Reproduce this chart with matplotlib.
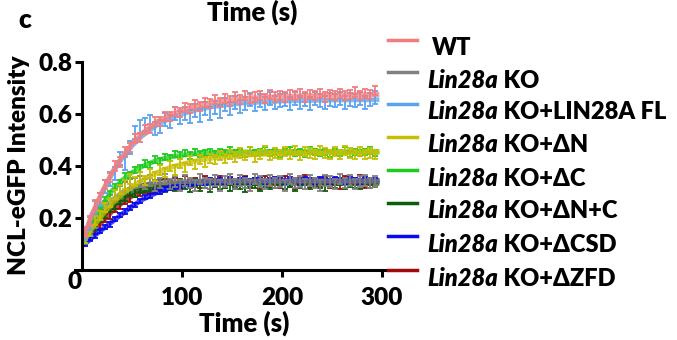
import matplotlib
matplotlib.use('Agg')
import matplotlib.pyplot as plt
from matplotlib.lines import Line2D
import numpy as np

plt.rcParams['font.family'] = ['Lato', 'DejaVu Sans']
plt.rcParams['font.weight'] = 'heavy'

# sampling times (s)
time = np.arange(3, 294, 5)

wt = [0.145, 0.19, 0.25, 0.28, 0.33, 0.355, 0.40, 0.415, 0.455, 0.47,
      0.505, 0.51, 0.54, 0.545, 0.57, 0.57, 0.59, 0.59, 0.61, 0.605,
      0.625, 0.62, 0.635, 0.63, 0.645, 0.64, 0.655, 0.645, 0.66, 0.65,
      0.665, 0.655, 0.67, 0.66, 0.665, 0.67, 0.66, 0.675, 0.665, 0.67,
      0.665, 0.675, 0.67, 0.68, 0.665, 0.675, 0.67, 0.68, 0.665, 0.675,
      0.67, 0.68, 0.67, 0.675, 0.685, 0.67, 0.68, 0.675, 0.69]
ko = [0.12, 0.16, 0.18, 0.22, 0.245, 0.27, 0.29, 0.31, 0.32, 0.33,
      0.335, 0.34, 0.33, 0.345, 0.325, 0.335, 0.35, 0.33, 0.34, 0.325,
      0.345, 0.335, 0.325, 0.35, 0.335, 0.33, 0.345, 0.325, 0.34, 0.35,
      0.33, 0.345, 0.335, 0.325, 0.35, 0.34, 0.33, 0.345, 0.335, 0.34,
      0.325, 0.35, 0.335, 0.34, 0.33, 0.345, 0.335, 0.325, 0.345, 0.34,
      0.33, 0.35, 0.335, 0.345, 0.33, 0.34, 0.345, 0.335, 0.34]
fl = [0.14, 0.18, 0.24, 0.27, 0.32, 0.35, 0.37, 0.43, 0.41, 0.47,
      0.53, 0.55, 0.56, 0.57, 0.545, 0.55, 0.58, 0.57, 0.60, 0.585,
      0.60, 0.59, 0.615, 0.595, 0.62, 0.60, 0.625, 0.61, 0.635, 0.62,
      0.645, 0.63, 0.64, 0.655, 0.635, 0.65, 0.64, 0.66, 0.645, 0.65,
      0.655, 0.64, 0.66, 0.645, 0.655, 0.64, 0.66, 0.65, 0.645, 0.655,
      0.65, 0.66, 0.645, 0.655, 0.65, 0.66, 0.645, 0.655, 0.665]
d_n = [0.12, 0.15, 0.19, 0.21, 0.24, 0.26, 0.29, 0.31, 0.33, 0.35,
       0.34, 0.36, 0.345, 0.37, 0.36, 0.385, 0.375, 0.40, 0.385, 0.41,
       0.395, 0.42, 0.405, 0.425, 0.415, 0.43, 0.425, 0.44, 0.43, 0.445,
       0.435, 0.45, 0.44, 0.455, 0.435, 0.445, 0.46, 0.44, 0.45, 0.445,
       0.455, 0.445, 0.46, 0.44, 0.455, 0.45, 0.445, 0.46, 0.45, 0.445,
       0.455, 0.445, 0.46, 0.45, 0.445, 0.455, 0.445, 0.45, 0.445]
d_c = [0.115, 0.16, 0.205, 0.23, 0.27, 0.29, 0.32, 0.335, 0.36, 0.365,
       0.385, 0.39, 0.41, 0.405, 0.425, 0.42, 0.435, 0.43, 0.445, 0.44,
       0.45, 0.44, 0.455, 0.445, 0.45, 0.455, 0.445, 0.455, 0.45, 0.46,
       0.45, 0.455, 0.445, 0.46, 0.45, 0.455, 0.46, 0.45, 0.455, 0.445,
       0.455, 0.46, 0.45, 0.455, 0.445, 0.46, 0.455, 0.45, 0.455, 0.445,
       0.455, 0.45, 0.46, 0.445, 0.455, 0.45, 0.455, 0.46, 0.45]
d_nc = [0.115, 0.145, 0.17, 0.2, 0.215, 0.24, 0.25, 0.27, 0.28, 0.30,
        0.295, 0.31, 0.315, 0.32, 0.31, 0.33, 0.315, 0.33, 0.32, 0.335,
        0.325, 0.315, 0.335, 0.32, 0.33, 0.315, 0.335, 0.325, 0.33, 0.32,
        0.335, 0.325, 0.315, 0.335, 0.33, 0.32, 0.335, 0.325, 0.33, 0.34,
        0.325, 0.335, 0.32, 0.33, 0.34, 0.325, 0.335, 0.33, 0.32, 0.335,
        0.33, 0.34, 0.325, 0.335, 0.33, 0.325, 0.34, 0.33, 0.335]
d_csd = [0.10, 0.12, 0.13, 0.15, 0.165, 0.175, 0.195, 0.21, 0.225, 0.24,
         0.25, 0.265, 0.28, 0.285, 0.30, 0.30, 0.31, 0.315, 0.32, 0.325,
         0.33, 0.33, 0.335, 0.34, 0.335, 0.345, 0.34, 0.345, 0.34, 0.35,
         0.34, 0.345, 0.35, 0.34, 0.345, 0.35, 0.34, 0.345, 0.35, 0.345,
         0.34, 0.35, 0.345, 0.34, 0.35, 0.345, 0.34, 0.35, 0.345, 0.34,
         0.35, 0.345, 0.34, 0.35, 0.345, 0.34, 0.35, 0.345, 0.345]
d_zfd = [0.11, 0.13, 0.155, 0.17, 0.20, 0.21, 0.24, 0.25, 0.27, 0.275,
         0.295, 0.30, 0.31, 0.31, 0.33, 0.32, 0.335, 0.325, 0.34, 0.325,
         0.345, 0.33, 0.34, 0.33, 0.345, 0.325, 0.335, 0.345, 0.33, 0.34,
         0.325, 0.34, 0.345, 0.33, 0.34, 0.325, 0.345, 0.335, 0.34, 0.33,
         0.345, 0.335, 0.325, 0.34, 0.35, 0.33, 0.34, 0.335, 0.345, 0.33,
         0.34, 0.325, 0.345, 0.335, 0.34, 0.35, 0.33, 0.34, 0.335]

# fitted recovery curves, read at a few times
fit_t = [3, 10, 20, 30, 40, 50, 60, 75, 90, 110, 130, 160, 200, 250, 295]
fit_wt = [0.14, 0.215, 0.30, 0.375, 0.435, 0.485, 0.525, 0.57, 0.60, 0.628, 0.645, 0.66, 0.668, 0.673, 0.675]
fit_ko = [0.12, 0.165, 0.225, 0.268, 0.298, 0.316, 0.327, 0.335, 0.339, 0.341, 0.342, 0.342, 0.342, 0.342, 0.342]
fit_fl = [0.135, 0.21, 0.295, 0.37, 0.43, 0.478, 0.515, 0.558, 0.587, 0.612, 0.628, 0.642, 0.65, 0.654, 0.655]
fit_n = [0.12, 0.16, 0.21, 0.255, 0.29, 0.32, 0.345, 0.375, 0.397, 0.417, 0.43, 0.441, 0.448, 0.451, 0.452]
fit_c = [0.115, 0.175, 0.25, 0.305, 0.345, 0.375, 0.398, 0.422, 0.436, 0.446, 0.451, 0.454, 0.455, 0.455, 0.455]
fit_nc = [0.115, 0.155, 0.205, 0.245, 0.275, 0.296, 0.31, 0.322, 0.328, 0.331, 0.332, 0.333, 0.333, 0.333, 0.333]
fit_csd = [0.10, 0.125, 0.155, 0.185, 0.215, 0.245, 0.27, 0.298, 0.317, 0.332, 0.339, 0.343, 0.345, 0.345, 0.345]
fit_zfd = [0.11, 0.14, 0.185, 0.225, 0.258, 0.284, 0.303, 0.321, 0.331, 0.337, 0.339, 0.34, 0.34, 0.34, 0.34]

labels = ['WT', 'KO', 'KO+LIN28A FL', 'KO+\u0394N', 'KO+\u0394C',
          'KO+\u0394N+C', 'KO+\u0394CSD', 'KO+\u0394ZFD']
means = [wt, ko, fl, d_n, d_c, d_nc, d_csd, d_zfd]
fits = [fit_wt, fit_ko, fit_fl, fit_n, fit_c, fit_nc, fit_csd, fit_zfd]
sem = [0.018, 0.02, 0.025, 0.018, 0.012, 0.015, 0.008, 0.015]
colors = ['#F47C7C', '#808080', '#5BA3F0', '#C8BE00', '#1ECB1E',
          '#0B5E0B', '#0A0AF0', '#A00A0A']
draw_order = [7, 5, 6, 1, 4, 3, 2, 0]

W, H = 677, 340
fig = plt.figure(figsize=(W / 100, H / 100), dpi=100)
ax = fig.add_axes([75 / W, 1 - 270 / H, 310 / W, 208 / H])

for i in draw_order:
    ax.errorbar(time, means[i], yerr=sem[i], fmt='none', ecolor=colors[i],
                elinewidth=1.3, capsize=2.2, capthick=1.3)
    ax.plot(fit_t, fits[i], color=colors[i], lw=3.5, alpha=0.75)

ax.set_xlim(-7, 303)
ax.set_ylim(0, 0.8)
ax.spines['left'].set_position(('data', 0))
ax.spines['right'].set_visible(False)
ax.spines['top'].set_visible(False)
for s in ['left', 'bottom']:
    ax.spines[s].set_linewidth(2.2)
ax.set_xticks([100, 200, 300])
ax.set_yticks([0.2, 0.4, 0.6, 0.8])
ax.set_yticklabels(['0.2', '0.4', '0.6', '0.8'])
ax.tick_params(width=2.2, length=5, labelsize=17.5)
ax.tick_params(axis='x', pad=7.5)
ax.tick_params(axis='y', pad=2)
ax.text(-7, -0.046, '0', ha='center', va='center', fontsize=17.5,
        clip_on=False)

fig.text(244 / W, 1 - 323 / H, 'Time (s)', ha='center', va='center', fontsize=18.5)
fig.text(252 / W, 1 - 12 / H, 'Time (s)', ha='center', va='center', fontsize=18.5)
fig.text(25 / W, 1 - 20 / H, 'c', ha='center', va='center', fontsize=19)
fig.text(19 / W, 1 - 165 / H, 'NCL-eGFP Intensity', rotation=90,
         ha='center', va='center', fontsize=17.5)

# legend
rows = [40, 72, 104, 137, 170, 203, 236, 270]
for i, py in enumerate(rows):
    fy = 1 - py / H
    fig.add_artist(Line2D([388 / W, 417 / W], [fy, fy], color=colors[i],
                          lw=2.5, transform=fig.transFigure))
    ty = 1 - (py + 8) / H
    if labels[i] == 'WT':
        fig.text(432 / W, ty, 'WT', ha='left', va='center', fontsize=17)
    else:
        t1 = fig.text(427 / W, ty, 'Lin28a', ha='left', va='center',
                      fontsize=17, style='italic')
        ax.annotate(' ' + labels[i], xy=(1, 0), xycoords=t1, ha='left',
                    va='bottom', fontsize=17, annotation_clip=False)

fig.savefig('out.png', dpi=100)
